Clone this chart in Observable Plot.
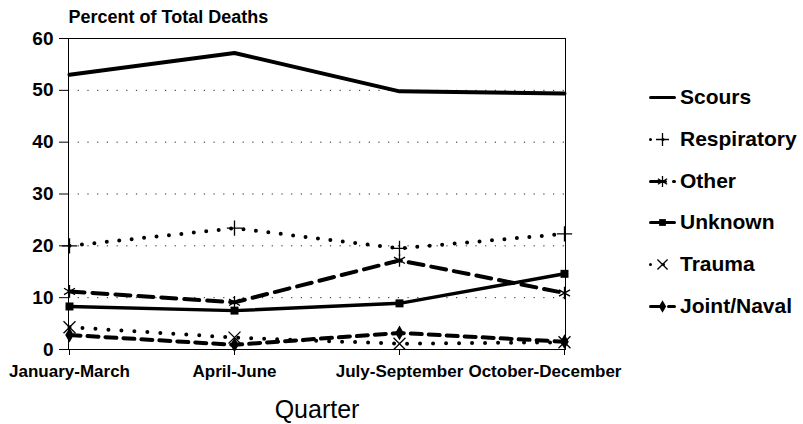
<!DOCTYPE html>
<html>
<head>
<meta charset="utf-8">
<script src="https://cdn.jsdelivr.net/npm/d3@7"></script>
<script src="https://cdn.jsdelivr.net/npm/@observablehq/plot@0.6"></script>
<style>
  html, body { margin: 0; padding: 0; background: #fff; }
  #wrap { position: relative; width: 803px; height: 424px; font-family: "Liberation Sans", Arial, sans-serif; }
  #legend { position: absolute; left: 650px; top: 0; }
  .item { position: absolute; left: 0; display: flex; align-items: center; white-space: nowrap; font-weight: bold; font-size: 21px; color: #000; }
  .item svg { margin-right: 6px; }
</style>
</head>
<body>
<div id="wrap"><div id="legend"></div></div>
<script>
const quarters = ["January-March", "April-June", "July-September", "October-December"];
const seriesNames = ["Scours", "Respiratory", "Other", "Unknown", "Trauma", "Joint/Naval"];
const scours = [53.0, 57.2, 49.8, 49.4];
const respiratory = [20.0, 23.4, 19.5, 22.3];
const other = [11.2, 9.1, 17.2, 10.9];
const unknown = [8.3, 7.5, 8.9, 14.6];
const trauma = [4.3, 2.3, 1.1, 1.4];
const jointNaval = [2.8, 0.9, 3.2, 1.5];
const yTicks = [0, 10, 20, 30, 40, 50, 60];
const gridTicks = [10, 20, 30, 40, 50];

const values = [scours, respiratory, other, unknown, trauma, jointNaval];
const rows = [];
seriesNames.forEach((s, i) => quarters.forEach((q, j) => rows.push({series: s, quarter: q, value: values[i][j]})));
const of = s => rows.filter(d => d.series === s);

const styles = {
  "Scours":      {line: {strokeWidth: 4}, dot: null},
  "Respiratory": {line: {strokeWidth: 4, strokeDasharray: "0,12.5", strokeLinecap: "round"}, dot: {symbol: "plus", r: 5, stroke: "black", strokeWidth: 1.3, fill: "none"}},
  "Other":       {line: {strokeWidth: 4, strokeDasharray: "15,8"}, dot: {symbol: "asterisk", r: 6, stroke: "black", strokeWidth: 1.3, fill: "none"}},
  "Unknown":     {line: {strokeWidth: 3.5}, dot: {symbol: "square", r: 4.5, fill: "black", stroke: "none"}},
  "Trauma":      {line: {strokeWidth: 4, strokeDasharray: "0,13", strokeLinecap: "round"}, dot: {symbol: "times", r: 5.5, stroke: "black", strokeWidth: 1.3, fill: "none"}},
  "Joint/Naval": {line: {strokeWidth: 4, strokeDasharray: "11,7"}, dot: {symbol: "diamond", r: 4.5, fill: "black", stroke: "none"}}
};

const lastQ = quarters[quarters.length - 1];
const marks = [
  Plot.ruleY(gridTicks, {stroke: "#222", strokeWidth: 1, strokeDasharray: "1.2,8.5"}),
  Plot.frame({stroke: "black", strokeWidth: 1})
];
for (const s of seriesNames) {
  marks.push(Plot.line(of(s), {x: "quarter", y: "value", stroke: "black", ...styles[s].line}));
}
for (const s of seriesNames) {
  if (styles[s].dot) marks.push(Plot.dot(of(s), {x: "quarter", y: "value", ...styles[s].dot}));
}
marks.push(
  Plot.axisY({ticks: yTicks, tickSize: 9, tickPadding: 6, fontSize: 19, fontWeight: "bold", label: null, tickFormat: d => String(d)}),
  Plot.axisX({ticks: quarters, tickSize: 6, tickPadding: 9, fontSize: 17, fontWeight: "bold", label: null, tickFormat: d => d === lastQ ? "" : d}),
  Plot.axisX({ticks: [lastQ], tickSize: 0, tickPadding: 15, fontSize: 17, fontWeight: "bold", label: null, textAnchor: "end", dx: 57}),
  Plot.text(["Percent of Total Deaths"], {frameAnchor: "top-left", dy: -21, textAnchor: "start", fontSize: 18, fontWeight: "bold", lineAnchor: "middle"}),
  Plot.text(["Quarter"], {frameAnchor: "bottom", dy: 60, fontSize: 25, lineAnchor: "middle"})
);

const chart = Plot.plot({
  width: 803, height: 424,
  marginLeft: 68, marginRight: 238, marginTop: 38, marginBottom: 75,
  x: {type: "point", domain: quarters, padding: 0},
  y: {domain: [0, 60]},
  style: {fontFamily: "'Liberation Sans', Arial, sans-serif", color: "black", background: "white", overflow: "visible"},
  marks
});
document.getElementById("wrap").prepend(chart);

// legend
const legendY = [98, 140, 182, 223, 265, 307];
const legend = document.getElementById("legend");
seriesNames.forEach((s, i) => {
  const item = document.createElement("div");
  item.className = "item";
  item.style.top = (legendY[i] - 13) + "px";
  const st = styles[s];
  const sample = Plot.plot({
    width: 24, height: 14, margin: 0,
    x: {domain: [0, 1], axis: null}, y: {domain: [0, 1], axis: null},
    style: {background: "transparent", overflow: "visible"},
    marks: [
      Plot.line([[0, 0.5], [1, 0.5]], {stroke: "black", ...st.line, strokeWidth: 3}),
      st.dot ? Plot.dot([[0.5, 0.5]], {...st.dot, r: st.dot.r * 0.85}) : null
    ]
  });
  item.appendChild(sample);
  const t = document.createElement("span");
  t.textContent = s;
  item.appendChild(t);
  legend.appendChild(item);
});
</script>
</body>
</html>
